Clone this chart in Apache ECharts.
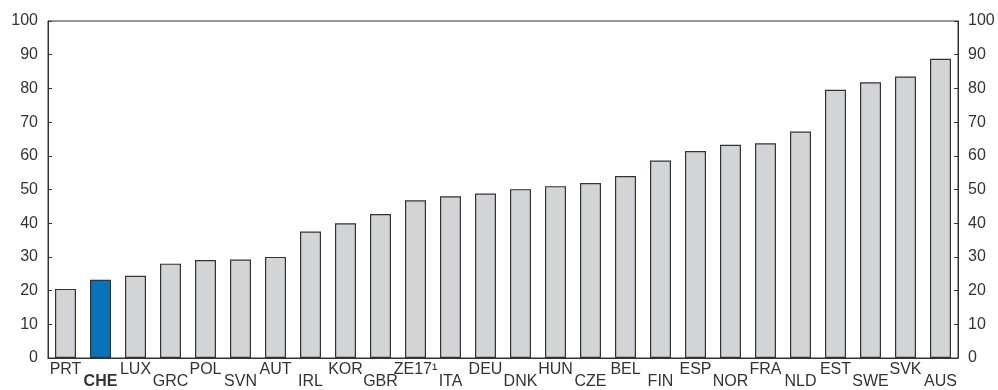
<!DOCTYPE html>
<html><head><meta charset="utf-8">
<script src="https://cdn.jsdelivr.net/npm/echarts@6/dist/echarts.min.js"></script>
<style>html,body{margin:0;padding:0;background:#fff}#c{width:998px;height:390px}</style>
</head><body><div id="c"></div>
<script>
const categories = ['PRT','CHE','LUX','GRC','POL','SVN','AUT','IRL','KOR','GBR','ZE17\u00B9','ITA','DEU','DNK','HUN','CZE','BEL','FIN','ESP','NOR','FRA','NLD','EST','SWE','SVK','AUS'];
const values = [20.5,23.2,24.4,28.0,29.1,29.2,30.0,37.5,40.0,42.7,46.8,48.0,48.8,50.1,51.0,51.9,54.0,58.6,61.4,63.3,63.7,67.2,79.6,81.8,83.5,88.8];
const highlight = 'CHE';
const yTicks = [0,10,20,30,40,50,60,70,80,90,100];

const FONT = '"Liberation Sans Narrow","Liberation Sans",Arial,sans-serif';
const FONT_T = '"Liberation Sans",Arial,sans-serif';
const chart = echarts.init(document.getElementById('c'), null, {renderer:'canvas'});
const yAxisCommon = {
  type:'value', min:yTicks[0], max:yTicks[yTicks.length-1], interval:10,
  axisLine:{show:true, lineStyle:{color:'#333', width:1}},
  axisTick:{show:true, inside:true, length:4, lineStyle:{color:'#333'}},
  splitLine:{show:false},
  axisLabel:{color:'#333', fontSize:16, fontFamily:FONT_T, margin:10}
};
chart.setOption({
  animation:false,
  grid:{left:48, right:40, top:21, bottom:31, show:true, borderColor:'#333', borderWidth:1, containLabel:false},
  xAxis:{
    type:'category', data:categories,
    axisLine:{show:true, lineStyle:{color:'#333'}},
    axisTick:{show:false},
    axisLabel:{
      interval:0, margin:6, color:'#333', fontSize:16, fontFamily:FONT, lineHeight:12,
      formatter:(v,i)=> (i%2 ? '\n' : '') + (v===highlight ? '{b|'+v+'}' : '{n|'+v+'}'),
      rich:{
        n:{fontSize:16, fontFamily:FONT, color:'#333', lineHeight:12},
        b:{fontSize:16, fontFamily:FONT, fontWeight:'bold', color:'#333', lineHeight:12}
      }
    }
  },
  yAxis:[
    Object.assign({position:'left'}, yAxisCommon),
    Object.assign({position:'right'}, yAxisCommon)
  ],
  series:[{
    type:'bar', barWidth:'60%',
    data: values.map((v,i)=>({value:v, itemStyle:{color: categories[i]===highlight ? '#0a72b8' : '#d3d4d6'}})),
    itemStyle:{borderColor:'#333', borderWidth:1.2}
  }]
});
</script></body></html>
